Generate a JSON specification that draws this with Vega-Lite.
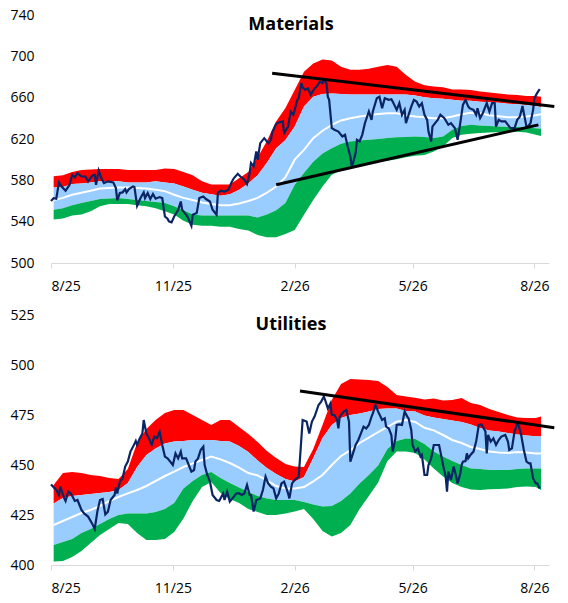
{
  "$schema": "https://vega.github.io/schema/vega-lite/v6.json",
  "padding": {"left": 9, "top": 8, "right": 5, "bottom": 5},
  "spacing": 15,
  "config": {
    "view": {"stroke": null},
    "font": "Open Sans",
    "axis": {"labelFont": "Open Sans", "labelFontSize": 14, "labelColor": "#000000", "title": null, "grid": false},
    "axisX": {"domainColor": "#D9D9D9", "tickColor": "#D9D9D9", "tickSize": 5, "labelPadding": 11, "domainWidth": 1},
    "axisY": {"domain": false, "ticks": false, "labelPadding": 17},
    "title": {"font": "Open Sans", "fontSize": 18, "fontWeight": "bold", "color": "#000000", "frame": "group", "offset": -26, "baseline": "alphabetic", "dx": -9}
  },
  "datasets": {
    "matBands": [
      {"date": "2025-08-03", "red_top": 584, "blue_top": 573, "mid": 561, "blue_bottom": 551.5, "green_bottom": 542},
      {"date": "2025-08-10", "red_top": 585, "blue_top": 573.5, "mid": 563, "blue_bottom": 553, "green_bottom": 543},
      {"date": "2025-08-17", "red_top": 588, "blue_top": 576.5, "mid": 566, "blue_bottom": 556, "green_bottom": 546},
      {"date": "2025-08-24", "red_top": 590, "blue_top": 577, "mid": 568, "blue_bottom": 558, "green_bottom": 547},
      {"date": "2025-08-31", "red_top": 590.5, "blue_top": 578, "mid": 570, "blue_bottom": 560, "green_bottom": 550},
      {"date": "2025-09-07", "red_top": 591, "blue_top": 579, "mid": 572, "blue_bottom": 562, "green_bottom": 555},
      {"date": "2025-09-14", "red_top": 591, "blue_top": 579, "mid": 572.5, "blue_bottom": 562.5, "green_bottom": 557},
      {"date": "2025-09-21", "red_top": 591, "blue_top": 579, "mid": 573, "blue_bottom": 563, "green_bottom": 557},
      {"date": "2025-09-28", "red_top": 590, "blue_top": 578, "mid": 573, "blue_bottom": 562, "green_bottom": 557},
      {"date": "2025-10-05", "red_top": 590, "blue_top": 578, "mid": 572.5, "blue_bottom": 561, "green_bottom": 556},
      {"date": "2025-10-12", "red_top": 590, "blue_top": 578, "mid": 572, "blue_bottom": 560, "green_bottom": 555},
      {"date": "2025-10-19", "red_top": 590, "blue_top": 579, "mid": 571, "blue_bottom": 559, "green_bottom": 553},
      {"date": "2025-10-26", "red_top": 591.5, "blue_top": 578, "mid": 569.5, "blue_bottom": 558, "green_bottom": 550},
      {"date": "2025-11-02", "red_top": 591, "blue_top": 577, "mid": 566, "blue_bottom": 555, "green_bottom": 547},
      {"date": "2025-11-09", "red_top": 588, "blue_top": 574, "mid": 563, "blue_bottom": 551, "green_bottom": 541},
      {"date": "2025-11-16", "red_top": 585, "blue_top": 571, "mid": 561, "blue_bottom": 547, "green_bottom": 537},
      {"date": "2025-11-23", "red_top": 579, "blue_top": 568, "mid": 558.5, "blue_bottom": 546, "green_bottom": 536},
      {"date": "2025-11-30", "red_top": 576, "blue_top": 566.5, "mid": 557, "blue_bottom": 546, "green_bottom": 536},
      {"date": "2025-12-07", "red_top": 576, "blue_top": 565, "mid": 556, "blue_bottom": 546, "green_bottom": 535},
      {"date": "2025-12-14", "red_top": 576, "blue_top": 566.5, "mid": 556, "blue_bottom": 546, "green_bottom": 535},
      {"date": "2025-12-21", "red_top": 582, "blue_top": 571, "mid": 557.5, "blue_bottom": 546, "green_bottom": 533},
      {"date": "2025-12-28", "red_top": 588, "blue_top": 577, "mid": 560, "blue_bottom": 546, "green_bottom": 531.5},
      {"date": "2026-01-04", "red_top": 602, "blue_top": 585, "mid": 563, "blue_bottom": 544, "green_bottom": 527},
      {"date": "2026-01-11", "red_top": 618, "blue_top": 597, "mid": 568, "blue_bottom": 547, "green_bottom": 525},
      {"date": "2026-01-18", "red_top": 637, "blue_top": 611, "mid": 574, "blue_bottom": 551, "green_bottom": 525},
      {"date": "2026-01-25", "red_top": 650, "blue_top": 619, "mid": 583, "blue_bottom": 558, "green_bottom": 528},
      {"date": "2026-02-01", "red_top": 667.5, "blue_top": 632, "mid": 600, "blue_bottom": 575.7, "green_bottom": 532},
      {"date": "2026-02-08", "red_top": 685, "blue_top": 651.4, "mid": 609.5, "blue_bottom": 587, "green_bottom": 546.7},
      {"date": "2026-02-15", "red_top": 693, "blue_top": 661, "mid": 620.8, "blue_bottom": 598, "green_bottom": 561},
      {"date": "2026-02-22", "red_top": 697, "blue_top": 663.6, "mid": 628, "blue_bottom": 606, "green_bottom": 574},
      {"date": "2026-03-01", "red_top": 696, "blue_top": 664, "mid": 633.7, "blue_bottom": 611, "green_bottom": 585.4},
      {"date": "2026-03-08", "red_top": 690, "blue_top": 663.5, "mid": 638, "blue_bottom": 615.3, "green_bottom": 590},
      {"date": "2026-03-15", "red_top": 687, "blue_top": 663, "mid": 640, "blue_bottom": 617.6, "green_bottom": 593},
      {"date": "2026-03-22", "red_top": 687, "blue_top": 663, "mid": 641.7, "blue_bottom": 618.6, "green_bottom": 595},
      {"date": "2026-03-29", "red_top": 688, "blue_top": 663, "mid": 643, "blue_bottom": 619.2, "green_bottom": 596.6},
      {"date": "2026-04-05", "red_top": 690, "blue_top": 663, "mid": 644.3, "blue_bottom": 620, "green_bottom": 598},
      {"date": "2026-04-12", "red_top": 691.7, "blue_top": 663, "mid": 645, "blue_bottom": 621, "green_bottom": 599},
      {"date": "2026-04-19", "red_top": 690, "blue_top": 663, "mid": 645, "blue_bottom": 621.6, "green_bottom": 600.5},
      {"date": "2026-04-26", "red_top": 682, "blue_top": 663, "mid": 643, "blue_bottom": 622, "green_bottom": 602.4},
      {"date": "2026-05-03", "red_top": 675.5, "blue_top": 662, "mid": 641.7, "blue_bottom": 622.5, "green_bottom": 603.7},
      {"date": "2026-05-10", "red_top": 672, "blue_top": 660.4, "mid": 641, "blue_bottom": 622, "green_bottom": 604.6},
      {"date": "2026-05-17", "red_top": 670.7, "blue_top": 659.4, "mid": 640, "blue_bottom": 621, "green_bottom": 608},
      {"date": "2026-05-24", "red_top": 670, "blue_top": 659, "mid": 640, "blue_bottom": 622.5, "green_bottom": 612.7},
      {"date": "2026-05-31", "red_top": 668, "blue_top": 657.9, "mid": 641.7, "blue_bottom": 628.9, "green_bottom": 621},
      {"date": "2026-06-07", "red_top": 668, "blue_top": 657, "mid": 644, "blue_bottom": 632.7, "green_bottom": 624},
      {"date": "2026-06-14", "red_top": 667.5, "blue_top": 657, "mid": 645.5, "blue_bottom": 633.7, "green_bottom": 625},
      {"date": "2026-06-21", "red_top": 666, "blue_top": 656, "mid": 645, "blue_bottom": 633, "green_bottom": 625.7},
      {"date": "2026-06-28", "red_top": 665, "blue_top": 655.6, "mid": 643, "blue_bottom": 632.7, "green_bottom": 626.4},
      {"date": "2026-07-05", "red_top": 664, "blue_top": 655, "mid": 642, "blue_bottom": 632, "green_bottom": 626.7},
      {"date": "2026-07-12", "red_top": 663, "blue_top": 654, "mid": 641, "blue_bottom": 631.6, "green_bottom": 627},
      {"date": "2026-07-19", "red_top": 662.7, "blue_top": 653.6, "mid": 641, "blue_bottom": 631.6, "green_bottom": 627},
      {"date": "2026-07-26", "red_top": 661.7, "blue_top": 653, "mid": 641.7, "blue_bottom": 631, "green_bottom": 626.4},
      {"date": "2026-08-02", "red_top": 661.7, "blue_top": 652, "mid": 643, "blue_bottom": 630.5, "green_bottom": 624},
      {"date": "2026-08-06", "red_top": 661, "blue_top": 651, "mid": 644, "blue_bottom": 630, "green_bottom": 623}
    ],
    "matPrice": [
      {"date": "2025-08-01", "price": 560}, {"date": "2025-08-03", "price": 562.8}, {"date": "2025-08-05", "price": 562.2},
      {"date": "2025-08-07", "price": 578}, {"date": "2025-08-09", "price": 574}, {"date": "2025-08-12", "price": 570},
      {"date": "2025-08-15", "price": 575.7}, {"date": "2025-08-17", "price": 585.4}, {"date": "2025-08-19", "price": 583},
      {"date": "2025-08-21", "price": 587}, {"date": "2025-08-24", "price": 583.7}, {"date": "2025-08-27", "price": 583.7},
      {"date": "2025-08-29", "price": 579}, {"date": "2025-09-01", "price": 584.4}, {"date": "2025-09-03", "price": 585.4},
      {"date": "2025-09-04", "price": 575.7}, {"date": "2025-09-06", "price": 589.5}, {"date": "2025-09-08", "price": 582},
      {"date": "2025-09-10", "price": 577.3}, {"date": "2025-09-13", "price": 579}, {"date": "2025-09-17", "price": 578},
      {"date": "2025-09-19", "price": 572.5}, {"date": "2025-09-20", "price": 560.5}, {"date": "2025-09-22", "price": 567.7},
      {"date": "2025-09-24", "price": 568.3}, {"date": "2025-09-26", "price": 571.5}, {"date": "2025-09-27", "price": 568.3},
      {"date": "2025-09-29", "price": 571.8}, {"date": "2025-10-02", "price": 574}, {"date": "2025-10-03", "price": 573.5},
      {"date": "2025-10-05", "price": 555.4}, {"date": "2025-10-07", "price": 561.2}, {"date": "2025-10-08", "price": 563.8},
      {"date": "2025-10-10", "price": 568.3}, {"date": "2025-10-11", "price": 562.8}, {"date": "2025-10-13", "price": 567.7},
      {"date": "2025-10-15", "price": 561.9}, {"date": "2025-10-17", "price": 566.7}, {"date": "2025-10-19", "price": 562.2},
      {"date": "2025-10-22", "price": 563.8}, {"date": "2025-10-24", "price": 562.8}, {"date": "2025-10-26", "price": 545},
      {"date": "2025-10-28", "price": 542.8}, {"date": "2025-10-29", "price": 540.3}, {"date": "2025-10-31", "price": 539.3},
      {"date": "2025-11-02", "price": 545}, {"date": "2025-11-05", "price": 551.5}, {"date": "2025-11-07", "price": 559.5},
      {"date": "2025-11-08", "price": 551.5}, {"date": "2025-11-10", "price": 548.3}, {"date": "2025-11-12", "price": 545},
      {"date": "2025-11-13", "price": 541.9}, {"date": "2025-11-15", "price": 536}, {"date": "2025-11-16", "price": 546.7},
      {"date": "2025-11-19", "price": 548.3}, {"date": "2025-11-21", "price": 562.8}, {"date": "2025-11-24", "price": 564.4},
      {"date": "2025-11-26", "price": 561.9}, {"date": "2025-11-29", "price": 559.5}, {"date": "2025-12-01", "price": 551.5},
      {"date": "2025-12-04", "price": 546.7}, {"date": "2025-12-05", "price": 567.7}, {"date": "2025-12-07", "price": 570},
      {"date": "2025-12-10", "price": 569.2}, {"date": "2025-12-13", "price": 570.9}, {"date": "2025-12-15", "price": 577.3},
      {"date": "2025-12-17", "price": 582}, {"date": "2025-12-20", "price": 586.3}, {"date": "2025-12-22", "price": 583.7},
      {"date": "2025-12-25", "price": 580.5}, {"date": "2025-12-27", "price": 576.4}, {"date": "2025-12-29", "price": 587},
      {"date": "2025-12-30", "price": 596.7}, {"date": "2026-01-01", "price": 593.4}, {"date": "2026-01-03", "price": 608},
      {"date": "2026-01-04", "price": 599.9}, {"date": "2026-01-06", "price": 616}, {"date": "2026-01-09", "price": 620.8},
      {"date": "2026-01-12", "price": 616}, {"date": "2026-01-14", "price": 619.2}, {"date": "2026-01-15", "price": 626.3},
      {"date": "2026-01-18", "price": 634.7}, {"date": "2026-01-20", "price": 636}, {"date": "2026-01-23", "price": 637},
      {"date": "2026-01-24", "price": 625.7}, {"date": "2026-01-27", "price": 632}, {"date": "2026-01-29", "price": 646.6},
      {"date": "2026-01-31", "price": 643.4}, {"date": "2026-02-03", "price": 657.9}, {"date": "2026-02-04", "price": 659.5},
      {"date": "2026-02-06", "price": 674}, {"date": "2026-02-07", "price": 670}, {"date": "2026-02-09", "price": 667.5},
      {"date": "2026-02-11", "price": 669}, {"date": "2026-02-13", "price": 662.7}, {"date": "2026-02-16", "price": 669},
      {"date": "2026-02-18", "price": 671.4}, {"date": "2026-02-20", "price": 675.5}, {"date": "2026-02-22", "price": 674},
      {"date": "2026-02-23", "price": 677.2}, {"date": "2026-02-25", "price": 674}, {"date": "2026-02-26", "price": 661},
      {"date": "2026-02-27", "price": 657.9}, {"date": "2026-03-01", "price": 630.5}, {"date": "2026-03-03", "price": 628.9},
      {"date": "2026-03-06", "price": 627.2}, {"date": "2026-03-09", "price": 622.4}, {"date": "2026-03-11", "price": 624},
      {"date": "2026-03-13", "price": 612.7}, {"date": "2026-03-15", "price": 603}, {"date": "2026-03-16", "price": 593.4},
      {"date": "2026-03-17", "price": 596.7}, {"date": "2026-03-19", "price": 606.3}, {"date": "2026-03-20", "price": 619.2},
      {"date": "2026-03-22", "price": 617.6}, {"date": "2026-03-24", "price": 624}, {"date": "2026-03-26", "price": 635.3},
      {"date": "2026-03-29", "price": 646.6}, {"date": "2026-03-31", "price": 638.5}, {"date": "2026-04-01", "price": 646.6},
      {"date": "2026-04-04", "price": 659.5}, {"date": "2026-04-06", "price": 661}, {"date": "2026-04-08", "price": 649.8},
      {"date": "2026-04-10", "price": 659.5}, {"date": "2026-04-13", "price": 657.9}, {"date": "2026-04-15", "price": 658.5},
      {"date": "2026-04-16", "price": 656.2}, {"date": "2026-04-19", "price": 648.2}, {"date": "2026-04-21", "price": 654.7},
      {"date": "2026-04-23", "price": 643.4}, {"date": "2026-04-25", "price": 648.2}, {"date": "2026-04-26", "price": 635.3},
      {"date": "2026-04-28", "price": 643.4}, {"date": "2026-04-30", "price": 651.4}, {"date": "2026-05-02", "price": 657.9},
      {"date": "2026-05-04", "price": 656.2}, {"date": "2026-05-06", "price": 651.4}, {"date": "2026-05-08", "price": 654.7},
      {"date": "2026-05-10", "price": 643.4}, {"date": "2026-05-12", "price": 638.5}, {"date": "2026-05-13", "price": 627.2},
      {"date": "2026-05-15", "price": 617.6}, {"date": "2026-05-16", "price": 632}, {"date": "2026-05-18", "price": 635.3},
      {"date": "2026-05-20", "price": 638.5}, {"date": "2026-05-22", "price": 643.4}, {"date": "2026-05-25", "price": 640.2},
      {"date": "2026-05-28", "price": 633.7}, {"date": "2026-05-30", "price": 635.3}, {"date": "2026-06-02", "price": 630.5},
      {"date": "2026-06-04", "price": 619.2}, {"date": "2026-06-06", "price": 635.3}, {"date": "2026-06-08", "price": 653},
      {"date": "2026-06-10", "price": 657.9}, {"date": "2026-06-12", "price": 651.4}, {"date": "2026-06-13", "price": 649.8},
      {"date": "2026-06-16", "price": 648.2}, {"date": "2026-06-18", "price": 643.4}, {"date": "2026-06-19", "price": 649.8},
      {"date": "2026-06-21", "price": 640.2}, {"date": "2026-06-23", "price": 645}, {"date": "2026-06-26", "price": 654.7},
      {"date": "2026-06-28", "price": 646.6}, {"date": "2026-06-30", "price": 654.7}, {"date": "2026-07-02", "price": 654.7},
      {"date": "2026-07-03", "price": 632}, {"date": "2026-07-05", "price": 638.5}, {"date": "2026-07-07", "price": 637},
      {"date": "2026-07-10", "price": 637}, {"date": "2026-07-12", "price": 633.7}, {"date": "2026-07-14", "price": 630.5},
      {"date": "2026-07-17", "price": 630.5}, {"date": "2026-07-19", "price": 638.5}, {"date": "2026-07-21", "price": 641.7},
      {"date": "2026-07-23", "price": 652}, {"date": "2026-07-24", "price": 645}, {"date": "2026-07-26", "price": 632},
      {"date": "2026-07-27", "price": 632}, {"date": "2026-07-29", "price": 635.3}, {"date": "2026-07-31", "price": 648.2},
      {"date": "2026-08-01", "price": 659.5}, {"date": "2026-08-03", "price": 664.4}, {"date": "2026-08-05", "price": 668.2}
    ],
    "matTrend": [
      {"date": "2026-01-15", "value": 683.6, "line": "upper"},
      {"date": "2026-08-16", "value": 651.4, "line": "upper"},
      {"date": "2026-01-18", "value": 575.7, "line": "lower"},
      {"date": "2026-08-04", "value": 633.7, "line": "lower"}
    ],
    "utiBands": [
      {"date": "2025-08-03", "red_top": 440, "blue_top": 430.8, "mid": 420, "blue_bottom": 410, "green_bottom": 401.7},
      {"date": "2025-08-10", "red_top": 446, "blue_top": 433.5, "mid": 422, "blue_bottom": 411.5, "green_bottom": 402},
      {"date": "2025-08-17", "red_top": 446.5, "blue_top": 434.5, "mid": 424, "blue_bottom": 413, "green_bottom": 404},
      {"date": "2025-08-24", "red_top": 446, "blue_top": 435, "mid": 426, "blue_bottom": 416, "green_bottom": 407},
      {"date": "2025-08-31", "red_top": 445, "blue_top": 435.5, "mid": 427.5, "blue_bottom": 418, "green_bottom": 411},
      {"date": "2025-09-07", "red_top": 444.5, "blue_top": 436, "mid": 429.5, "blue_bottom": 420.5, "green_bottom": 415},
      {"date": "2025-09-14", "red_top": 443.5, "blue_top": 436.5, "mid": 432, "blue_bottom": 423, "green_bottom": 418},
      {"date": "2025-09-21", "red_top": 443, "blue_top": 437.5, "mid": 434, "blue_bottom": 425, "green_bottom": 421},
      {"date": "2025-09-28", "red_top": 448, "blue_top": 441, "mid": 435.8, "blue_bottom": 425.8, "green_bottom": 420.5},
      {"date": "2025-10-05", "red_top": 461, "blue_top": 449, "mid": 437.5, "blue_bottom": 425.8, "green_bottom": 416},
      {"date": "2025-10-12", "red_top": 468, "blue_top": 455, "mid": 439.5, "blue_bottom": 425.8, "green_bottom": 412.5},
      {"date": "2025-10-19", "red_top": 472.5, "blue_top": 458.3, "mid": 442, "blue_bottom": 426.5, "green_bottom": 412.5},
      {"date": "2025-10-26", "red_top": 476, "blue_top": 460.8, "mid": 444.5, "blue_bottom": 428, "green_bottom": 413},
      {"date": "2025-11-02", "red_top": 477.5, "blue_top": 461.7, "mid": 446.7, "blue_bottom": 431, "green_bottom": 416.5},
      {"date": "2025-11-09", "red_top": 477.5, "blue_top": 462, "mid": 449, "blue_bottom": 438.3, "green_bottom": 423.3},
      {"date": "2025-11-16", "red_top": 475, "blue_top": 462.5, "mid": 450.8, "blue_bottom": 442, "green_bottom": 432},
      {"date": "2025-11-23", "red_top": 472.5, "blue_top": 462.5, "mid": 452.5, "blue_bottom": 445, "green_bottom": 439},
      {"date": "2025-11-30", "red_top": 470, "blue_top": 462.5, "mid": 454.2, "blue_bottom": 446.5, "green_bottom": 441.5},
      {"date": "2025-12-07", "red_top": 472.5, "blue_top": 462, "mid": 452.8, "blue_bottom": 443.5, "green_bottom": 436},
      {"date": "2025-12-14", "red_top": 472.5, "blue_top": 461.7, "mid": 451, "blue_bottom": 441, "green_bottom": 433},
      {"date": "2025-12-21", "red_top": 469, "blue_top": 459.5, "mid": 448.7, "blue_bottom": 438.8, "green_bottom": 431},
      {"date": "2025-12-28", "red_top": 465.5, "blue_top": 456.5, "mid": 446, "blue_bottom": 436.5, "green_bottom": 428},
      {"date": "2026-01-04", "red_top": 461.5, "blue_top": 452.3, "mid": 444.8, "blue_bottom": 434.5, "green_bottom": 426.5},
      {"date": "2026-01-11", "red_top": 457, "blue_top": 448.5, "mid": 442.3, "blue_bottom": 433.2, "green_bottom": 425},
      {"date": "2026-01-18", "red_top": 453.5, "blue_top": 445.5, "mid": 439.5, "blue_bottom": 432.5, "green_bottom": 425},
      {"date": "2026-01-25", "red_top": 450.5, "blue_top": 443, "mid": 438.3, "blue_bottom": 432.5, "green_bottom": 425.8},
      {"date": "2026-02-01", "red_top": 449.2, "blue_top": 441.7, "mid": 438.3, "blue_bottom": 432.5, "green_bottom": 426.7},
      {"date": "2026-02-08", "red_top": 449, "blue_top": 444, "mid": 439, "blue_bottom": 431.5, "green_bottom": 428},
      {"date": "2026-02-15", "red_top": 458, "blue_top": 453.5, "mid": 441.8, "blue_bottom": 430.3, "green_bottom": 423},
      {"date": "2026-02-22", "red_top": 470, "blue_top": 463.5, "mid": 445, "blue_bottom": 429.2, "green_bottom": 417},
      {"date": "2026-03-01", "red_top": 482.5, "blue_top": 470, "mid": 450, "blue_bottom": 429.5, "green_bottom": 414.2},
      {"date": "2026-03-08", "red_top": 490.5, "blue_top": 473.5, "mid": 454.5, "blue_bottom": 432, "green_bottom": 416},
      {"date": "2026-03-15", "red_top": 493, "blue_top": 475, "mid": 457.3, "blue_bottom": 435.8, "green_bottom": 420},
      {"date": "2026-03-22", "red_top": 492.7, "blue_top": 475.8, "mid": 461, "blue_bottom": 440.7, "green_bottom": 428},
      {"date": "2026-03-29", "red_top": 492.5, "blue_top": 476.8, "mid": 463.7, "blue_bottom": 445, "green_bottom": 434.5},
      {"date": "2026-04-05", "red_top": 492, "blue_top": 478, "mid": 466.5, "blue_bottom": 449.8, "green_bottom": 441.2},
      {"date": "2026-04-12", "red_top": 489, "blue_top": 478.3, "mid": 469, "blue_bottom": 458, "green_bottom": 452},
      {"date": "2026-04-19", "red_top": 485, "blue_top": 478.3, "mid": 471.7, "blue_bottom": 462, "green_bottom": 456.7},
      {"date": "2026-04-26", "red_top": 484.2, "blue_top": 477, "mid": 472.5, "blue_bottom": 463.3, "green_bottom": 456.7},
      {"date": "2026-05-03", "red_top": 483.6, "blue_top": 476.7, "mid": 471.5, "blue_bottom": 463, "green_bottom": 456},
      {"date": "2026-05-10", "red_top": 482.8, "blue_top": 474.7, "mid": 468.6, "blue_bottom": 460.5, "green_bottom": 452.7},
      {"date": "2026-05-17", "red_top": 483.3, "blue_top": 473.8, "mid": 467.3, "blue_bottom": 456.7, "green_bottom": 448.3},
      {"date": "2026-05-24", "red_top": 482.2, "blue_top": 473, "mid": 465, "blue_bottom": 454.3, "green_bottom": 444.2},
      {"date": "2026-05-31", "red_top": 482.5, "blue_top": 472.3, "mid": 462.5, "blue_bottom": 452, "green_bottom": 441},
      {"date": "2026-06-07", "red_top": 483.5, "blue_top": 471.5, "mid": 461, "blue_bottom": 450, "green_bottom": 439},
      {"date": "2026-06-14", "red_top": 481, "blue_top": 470.3, "mid": 459, "blue_bottom": 448.3, "green_bottom": 437.7},
      {"date": "2026-06-21", "red_top": 480, "blue_top": 468.5, "mid": 458, "blue_bottom": 448, "green_bottom": 437.5},
      {"date": "2026-06-28", "red_top": 478, "blue_top": 467.3, "mid": 456.7, "blue_bottom": 447.5, "green_bottom": 437.9},
      {"date": "2026-07-05", "red_top": 476.5, "blue_top": 466.7, "mid": 456.2, "blue_bottom": 447.5, "green_bottom": 438},
      {"date": "2026-07-12", "red_top": 475, "blue_top": 466, "mid": 456, "blue_bottom": 447.5, "green_bottom": 438.2},
      {"date": "2026-07-19", "red_top": 473.8, "blue_top": 465.2, "mid": 456.5, "blue_bottom": 448, "green_bottom": 439},
      {"date": "2026-07-26", "red_top": 473.5, "blue_top": 464.8, "mid": 456.2, "blue_bottom": 448.3, "green_bottom": 439.2},
      {"date": "2026-08-02", "red_top": 473.5, "blue_top": 464.4, "mid": 455.8, "blue_bottom": 448.3, "green_bottom": 439},
      {"date": "2026-08-06", "red_top": 474.2, "blue_top": 464.2, "mid": 455.8, "blue_bottom": 448.3, "green_bottom": 437.5}
    ],
    "utiPrice": [
      {"date": "2025-08-01", "price": 440.3}, {"date": "2025-08-05", "price": 437.5}, {"date": "2025-08-07", "price": 435},
      {"date": "2025-08-08", "price": 439.2}, {"date": "2025-08-11", "price": 433.3}, {"date": "2025-08-12", "price": 432},
      {"date": "2025-08-14", "price": 436.7}, {"date": "2025-08-16", "price": 435.8}, {"date": "2025-08-19", "price": 432},
      {"date": "2025-08-21", "price": 432.5}, {"date": "2025-08-24", "price": 427.5}, {"date": "2025-08-26", "price": 425.8},
      {"date": "2025-08-29", "price": 424.2}, {"date": "2025-09-01", "price": 420.8}, {"date": "2025-09-03", "price": 418},
      {"date": "2025-09-05", "price": 426.7}, {"date": "2025-09-07", "price": 432.5}, {"date": "2025-09-09", "price": 433},
      {"date": "2025-09-11", "price": 425.3}, {"date": "2025-09-13", "price": 426.7}, {"date": "2025-09-15", "price": 432.5},
      {"date": "2025-09-18", "price": 435}, {"date": "2025-09-19", "price": 438.7}, {"date": "2025-09-20", "price": 435.8},
      {"date": "2025-09-22", "price": 441.7}, {"date": "2025-09-24", "price": 443.3}, {"date": "2025-09-26", "price": 449.2},
      {"date": "2025-09-28", "price": 451.7}, {"date": "2025-09-30", "price": 456.7}, {"date": "2025-10-02", "price": 459.2},
      {"date": "2025-10-04", "price": 462}, {"date": "2025-10-05", "price": 460}, {"date": "2025-10-07", "price": 463.3},
      {"date": "2025-10-09", "price": 465.8}, {"date": "2025-10-10", "price": 472.5}, {"date": "2025-10-12", "price": 465.8},
      {"date": "2025-10-14", "price": 463.3}, {"date": "2025-10-16", "price": 460}, {"date": "2025-10-18", "price": 464.2},
      {"date": "2025-10-20", "price": 463.3}, {"date": "2025-10-22", "price": 466.7}, {"date": "2025-10-24", "price": 460},
      {"date": "2025-10-26", "price": 454.2}, {"date": "2025-10-28", "price": 453.3}, {"date": "2025-10-30", "price": 451.7},
      {"date": "2025-11-01", "price": 450}, {"date": "2025-11-03", "price": 455.8}, {"date": "2025-11-05", "price": 453.3},
      {"date": "2025-11-07", "price": 456.7}, {"date": "2025-11-08", "price": 453.3}, {"date": "2025-11-11", "price": 453.3},
      {"date": "2025-11-13", "price": 450}, {"date": "2025-11-15", "price": 446.7}, {"date": "2025-11-17", "price": 447.5},
      {"date": "2025-11-18", "price": 451.7}, {"date": "2025-11-20", "price": 453.3}, {"date": "2025-11-22", "price": 457.5},
      {"date": "2025-11-24", "price": 459.2}, {"date": "2025-11-25", "price": 450}, {"date": "2025-11-27", "price": 445},
      {"date": "2025-11-29", "price": 441.7}, {"date": "2025-12-01", "price": 435}, {"date": "2025-12-04", "price": 432.5},
      {"date": "2025-12-06", "price": 432}, {"date": "2025-12-09", "price": 435.8}, {"date": "2025-12-10", "price": 432.5},
      {"date": "2025-12-12", "price": 436.7}, {"date": "2025-12-14", "price": 431.7}, {"date": "2025-12-16", "price": 433.3},
      {"date": "2025-12-19", "price": 435.8}, {"date": "2025-12-21", "price": 435.8}, {"date": "2025-12-23", "price": 435},
      {"date": "2025-12-25", "price": 435.8}, {"date": "2025-12-27", "price": 440}, {"date": "2025-12-29", "price": 435},
      {"date": "2025-12-30", "price": 435}, {"date": "2026-01-01", "price": 426.7}, {"date": "2026-01-03", "price": 432.5},
      {"date": "2026-01-06", "price": 433.3}, {"date": "2026-01-08", "price": 437.5}, {"date": "2026-01-10", "price": 444.2},
      {"date": "2026-01-12", "price": 440.8}, {"date": "2026-01-14", "price": 439.2}, {"date": "2026-01-16", "price": 438.3},
      {"date": "2026-01-18", "price": 433.3}, {"date": "2026-01-20", "price": 435.8}, {"date": "2026-01-22", "price": 440.8},
      {"date": "2026-01-24", "price": 441.7}, {"date": "2026-01-27", "price": 435.8}, {"date": "2026-01-28", "price": 433.3},
      {"date": "2026-01-30", "price": 440.8}, {"date": "2026-02-01", "price": 442.5}, {"date": "2026-02-04", "price": 444.2},
      {"date": "2026-02-05", "price": 453.3}, {"date": "2026-02-07", "price": 472.5}, {"date": "2026-02-10", "price": 471.7},
      {"date": "2026-02-12", "price": 465.8}, {"date": "2026-02-14", "price": 471.7}, {"date": "2026-02-16", "price": 474.2},
      {"date": "2026-02-19", "price": 480}, {"date": "2026-02-21", "price": 481.7}, {"date": "2026-02-23", "price": 484.2},
      {"date": "2026-02-24", "price": 482.5}, {"date": "2026-02-26", "price": 478.3}, {"date": "2026-02-28", "price": 480.8},
      {"date": "2026-03-01", "price": 475}, {"date": "2026-03-03", "price": 475}, {"date": "2026-03-05", "price": 472.5},
      {"date": "2026-03-06", "price": 468.3}, {"date": "2026-03-07", "price": 474.2}, {"date": "2026-03-10", "price": 476.7},
      {"date": "2026-03-12", "price": 477.5}, {"date": "2026-03-14", "price": 471.7}, {"date": "2026-03-15", "price": 451.7},
      {"date": "2026-03-17", "price": 455.8}, {"date": "2026-03-19", "price": 460}, {"date": "2026-03-21", "price": 462.5},
      {"date": "2026-03-23", "price": 465.8}, {"date": "2026-03-25", "price": 469.2}, {"date": "2026-03-27", "price": 468.3},
      {"date": "2026-03-29", "price": 470}, {"date": "2026-03-31", "price": 474.2}, {"date": "2026-04-01", "price": 475.8},
      {"date": "2026-04-03", "price": 480}, {"date": "2026-04-05", "price": 476.7}, {"date": "2026-04-08", "price": 472.5},
      {"date": "2026-04-10", "price": 473.3}, {"date": "2026-04-11", "price": 469.2}, {"date": "2026-04-13", "price": 468.3},
      {"date": "2026-04-15", "price": 465}, {"date": "2026-04-16", "price": 456.7}, {"date": "2026-04-18", "price": 463.3},
      {"date": "2026-04-19", "price": 470}, {"date": "2026-04-21", "price": 470.3}, {"date": "2026-04-23", "price": 470},
      {"date": "2026-04-25", "price": 476.7}, {"date": "2026-04-27", "price": 474.2}, {"date": "2026-04-28", "price": 473.3},
      {"date": "2026-04-30", "price": 467.5}, {"date": "2026-05-01", "price": 460}, {"date": "2026-05-03", "price": 456.7},
      {"date": "2026-05-05", "price": 458.3}, {"date": "2026-05-07", "price": 454.2}, {"date": "2026-05-08", "price": 455},
      {"date": "2026-05-10", "price": 445}, {"date": "2026-05-12", "price": 445}, {"date": "2026-05-13", "price": 450},
      {"date": "2026-05-15", "price": 453.3}, {"date": "2026-05-17", "price": 460}, {"date": "2026-05-19", "price": 460},
      {"date": "2026-05-21", "price": 460}, {"date": "2026-05-22", "price": 456.7}, {"date": "2026-05-24", "price": 450},
      {"date": "2026-05-26", "price": 444.2}, {"date": "2026-05-27", "price": 436.7}, {"date": "2026-05-28", "price": 446.7},
      {"date": "2026-05-30", "price": 442.5}, {"date": "2026-06-01", "price": 449.2}, {"date": "2026-06-02", "price": 446.7},
      {"date": "2026-06-04", "price": 440.8}, {"date": "2026-06-06", "price": 445.8}, {"date": "2026-06-07", "price": 450},
      {"date": "2026-06-08", "price": 451.7}, {"date": "2026-06-10", "price": 452}, {"date": "2026-06-11", "price": 455.8},
      {"date": "2026-06-12", "price": 453.3}, {"date": "2026-06-14", "price": 455.3}, {"date": "2026-06-16", "price": 456.7},
      {"date": "2026-06-18", "price": 461.7}, {"date": "2026-06-20", "price": 470}, {"date": "2026-06-22", "price": 470.3},
      {"date": "2026-06-23", "price": 469.2}, {"date": "2026-06-25", "price": 466.7}, {"date": "2026-06-26", "price": 455.8},
      {"date": "2026-06-27", "price": 465}, {"date": "2026-06-29", "price": 461.7}, {"date": "2026-07-01", "price": 463.3},
      {"date": "2026-07-03", "price": 460}, {"date": "2026-07-05", "price": 462.5}, {"date": "2026-07-07", "price": 464.2},
      {"date": "2026-07-10", "price": 465}, {"date": "2026-07-12", "price": 461.7}, {"date": "2026-07-13", "price": 457.5},
      {"date": "2026-07-15", "price": 458.3}, {"date": "2026-07-17", "price": 466.7}, {"date": "2026-07-19", "price": 470.8},
      {"date": "2026-07-20", "price": 470}, {"date": "2026-07-22", "price": 465}, {"date": "2026-07-24", "price": 457.5},
      {"date": "2026-07-26", "price": 451.7}, {"date": "2026-07-28", "price": 450.8}, {"date": "2026-07-29", "price": 450.8},
      {"date": "2026-07-31", "price": 443.3}, {"date": "2026-08-02", "price": 440.8}, {"date": "2026-08-03", "price": 440.8},
      {"date": "2026-08-05", "price": 438.3}
    ],
    "utiTrend": [
      {"date": "2026-02-05", "value": 487, "line": "upper"},
      {"date": "2026-08-16", "value": 468.6, "line": "upper"}
    ]
  },
  "vconcat": [
    {
      "width": 498,
      "height": 248,
      "title": {"text": "Materials"},
      "encoding": {
        "x": {
          "field": "date",
          "type": "temporal",
          "scale": {"type": "utc", "domain": [{"year": 2025, "month": 8, "date": 1, "utc": true}, {"year": 2026, "month": 8, "date": 12, "utc": true}]},
          "axis": {
            "values": [
              {"year": 2025, "month": 8, "date": 1, "utc": true},
              {"year": 2025, "month": 11, "date": 1, "utc": true},
              {"year": 2026, "month": 2, "date": 1, "utc": true},
              {"year": 2026, "month": 5, "date": 1, "utc": true},
              {"year": 2026, "month": 8, "date": 1, "utc": true}
            ],
            "labelExpr": "utcFormat(datum.value, '%-m/%y')"
          }
        }
      },
      "layer": [
        {
          "data": {"name": "matBands"},
          "mark": {"type": "area", "color": "#FF0000"},
          "encoding": {
            "y": {"field": "red_top", "type": "quantitative", "scale": {"domain": [500, 740], "nice": false}, "axis": {"values": [500, 540, 580, 620, 660, 700, 740]}},
            "y2": {"field": "blue_top"}
          }
        },
        {
          "data": {"name": "matBands"},
          "mark": {"type": "area", "color": "#99CCFF"},
          "encoding": {"y": {"field": "blue_top", "type": "quantitative"}, "y2": {"field": "blue_bottom"}}
        },
        {
          "data": {"name": "matBands"},
          "mark": {"type": "area", "color": "#00B050"},
          "encoding": {"y": {"field": "blue_bottom", "type": "quantitative"}, "y2": {"field": "green_bottom"}}
        },
        {
          "data": {"name": "matBands"},
          "mark": {"type": "line", "color": "#FFFFFF", "strokeWidth": 2},
          "encoding": {"y": {"field": "mid", "type": "quantitative"}}
        },
        {
          "data": {"name": "matPrice"},
          "mark": {"type": "line", "color": "#0B2463", "strokeWidth": 2.2},
          "encoding": {"y": {"field": "price", "type": "quantitative"}}
        },
        {
          "data": {"name": "matTrend"},
          "mark": {"type": "line", "color": "#000000", "strokeWidth": 3},
          "encoding": {"y": {"field": "value", "type": "quantitative"}, "detail": {"field": "line"}}
        }
      ]
    },
    {
      "width": 498,
      "height": 250,
      "title": {"text": "Utilities"},
      "encoding": {
        "x": {
          "field": "date",
          "type": "temporal",
          "scale": {"type": "utc", "domain": [{"year": 2025, "month": 8, "date": 1, "utc": true}, {"year": 2026, "month": 8, "date": 12, "utc": true}]},
          "axis": {
            "values": [
              {"year": 2025, "month": 8, "date": 1, "utc": true},
              {"year": 2025, "month": 11, "date": 1, "utc": true},
              {"year": 2026, "month": 2, "date": 1, "utc": true},
              {"year": 2026, "month": 5, "date": 1, "utc": true},
              {"year": 2026, "month": 8, "date": 1, "utc": true}
            ],
            "labelExpr": "utcFormat(datum.value, '%-m/%y')"
          }
        }
      },
      "layer": [
        {
          "data": {"name": "utiBands"},
          "mark": {"type": "area", "color": "#FF0000"},
          "encoding": {
            "y": {"field": "red_top", "type": "quantitative", "scale": {"domain": [400, 525], "nice": false}, "axis": {"values": [400, 425, 450, 475, 500, 525]}},
            "y2": {"field": "blue_top"}
          }
        },
        {
          "data": {"name": "utiBands"},
          "mark": {"type": "area", "color": "#99CCFF"},
          "encoding": {"y": {"field": "blue_top", "type": "quantitative"}, "y2": {"field": "blue_bottom"}}
        },
        {
          "data": {"name": "utiBands"},
          "mark": {"type": "area", "color": "#00B050"},
          "encoding": {"y": {"field": "blue_bottom", "type": "quantitative"}, "y2": {"field": "green_bottom"}}
        },
        {
          "data": {"name": "utiBands"},
          "mark": {"type": "line", "color": "#FFFFFF", "strokeWidth": 2},
          "encoding": {"y": {"field": "mid", "type": "quantitative"}}
        },
        {
          "data": {"name": "utiPrice"},
          "mark": {"type": "line", "color": "#0B2463", "strokeWidth": 2.2},
          "encoding": {"y": {"field": "price", "type": "quantitative"}}
        },
        {
          "data": {"name": "utiTrend"},
          "mark": {"type": "line", "color": "#000000", "strokeWidth": 3},
          "encoding": {"y": {"field": "value", "type": "quantitative"}, "detail": {"field": "line"}}
        }
      ]
    }
  ]
}
